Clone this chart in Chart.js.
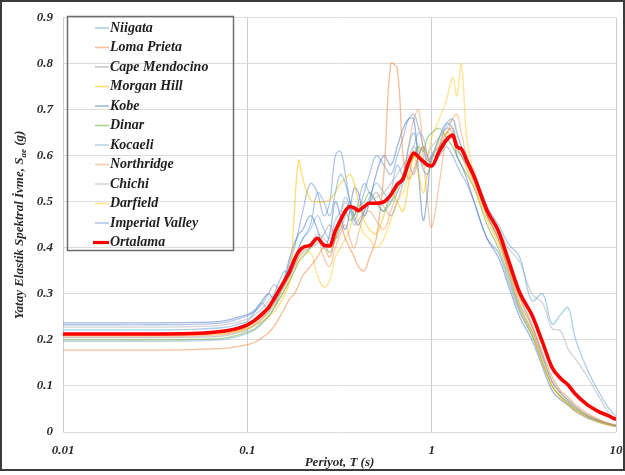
<!DOCTYPE html>
<html>
<head>
<meta charset="utf-8">
<script src="https://cdn.jsdelivr.net/npm/chart.js@4.4.0/dist/chart.umd.min.js"></script>
<style>
  html, body { margin: 0; padding: 0; background: #ffffff; }
  #wrap { position: relative; width: 625px; height: 475px; }
</style>
</head>
<body>
<div id="wrap"><canvas id="c" width="625" height="475"></canvas></div>
<script>
// Periods T (s)
const periods = [
  0.01, 0.02, 0.03, 0.05, 0.07, 0.08, 0.09, 0.10, 0.11, 0.12,
  0.13, 0.14, 0.15, 0.16, 0.17, 0.18, 0.19, 0.20, 0.22, 0.24,
  0.26, 0.28, 0.30, 0.32, 0.34, 0.36, 0.38, 0.40, 0.43, 0.46,
  0.50, 0.55, 0.60, 0.65, 0.70, 0.75, 0.80, 0.85, 0.90, 0.95,
  1.00, 1.10, 1.20, 1.30, 1.37, 1.45, 1.55, 1.70, 2.00, 2.30,
  2.60, 3.00, 3.50, 4.00, 4.50, 5.00, 5.50, 6.00, 7.00, 8.00,
  9.00, 10.0
];

// Horizontal elastic spectral acceleration Sae (g) per record
const niigata = [
  .222,.222,.222,.223,.226,.229,.235,.240,.262,.280,
  .265,.300,.330,.350,.340,.370,.400,.420,.450,.520,
  .500,.470,.520,.560,.540,.500,.470,.500,.540,.520,
  .500,.480,.520,.580,.560,.620,.650,.610,.570,.560,
  .590,.640,.670,.660,.620,.600,.580,.560,.490,.450,
  .410,.380,.285,.300,.235,.255,.270,.205,.135,.090,
  .055,.033
];
const lomaPrieta = [
  .178,.178,.178,.179,.181,.183,.186,.190,.195,.205,
  .215,.230,.250,.270,.290,.300,.320,.340,.360,.380,
  .400,.380,.420,.450,.420,.400,.380,.360,.350,.380,
  .420,.560,.800,.790,.600,.550,.570,.600,.620,.600,
  .580,.620,.650,.660,.630,.610,.580,.540,.470,.420,
  .360,.290,.230,.170,.120,.090,.075,.060,.040,.028,
  .020,.015
];
const capeMendocino = [
  .205,.205,.205,.206,.208,.211,.216,.222,.232,.245,
  .260,.280,.300,.320,.340,.360,.380,.390,.400,.410,
  .430,.450,.420,.440,.470,.500,.470,.450,.480,.500,
  .520,.490,.470,.500,.540,.580,.560,.600,.620,.590,
  .600,.640,.660,.650,.620,.600,.580,.550,.470,.420,
  .350,.270,.220,.160,.110,.085,.070,.055,.035,.025,
  .018,.014
];
const morganHill = [
  .210,.210,.210,.211,.213,.216,.220,.225,.232,.240,
  .250,.262,.278,.300,.330,.480,.590,.550,.505,.500,
  .500,.505,.520,.540,.550,.560,.540,.500,.460,.440,
  .430,.470,.520,.500,.480,.540,.600,.560,.520,.560,
  .590,.630,.650,.640,.610,.600,.570,.530,.460,.410,
  .350,.275,.215,.150,.100,.075,.060,.048,.032,.022,
  .016,.012
];
const kobe = [
  .237,.237,.237,.238,.240,.244,.250,.255,.265,.285,
  .300,.290,.310,.340,.380,.410,.430,.440,.470,.440,
  .400,.430,.500,.470,.440,.480,.530,.520,.470,.500,
  .560,.600,.580,.620,.660,.680,.680,.560,.460,.520,
  .600,.620,.640,.640,.600,.580,.550,.500,.420,.380,
  .320,.250,.200,.140,.090,.070,.058,.045,.030,.022,
  .016,.012
];
const dinar = [
  .200,.200,.200,.201,.203,.206,.211,.217,.225,.238,
  .252,.270,.290,.310,.330,.350,.370,.380,.400,.420,
  .410,.390,.420,.450,.480,.460,.470,.490,.500,.520,
  .500,.480,.500,.530,.560,.580,.600,.620,.610,.640,
  .650,.660,.640,.620,.600,.580,.560,.530,.450,.400,
  .340,.265,.210,.150,.100,.078,.062,.050,.034,.024,
  .018,.013
];
const kocaeli = [
  .197,.197,.197,.198,.200,.203,.208,.214,.222,.235,
  .250,.270,.300,.330,.360,.380,.400,.420,.440,.470,
  .440,.420,.460,.480,.510,.490,.460,.450,.480,.510,
  .540,.520,.500,.520,.550,.580,.620,.650,.640,.600,
  .580,.620,.670,.680,.650,.620,.590,.550,.470,.420,
  .360,.280,.230,.165,.110,.085,.068,.055,.036,.026,
  .019,.014
];
const northridge = [
  .208,.208,.208,.209,.211,.214,.219,.225,.235,.248,
  .262,.280,.300,.320,.340,.360,.380,.395,.400,.420,
  .380,.360,.400,.430,.450,.420,.400,.430,.470,.480,
  .460,.440,.480,.520,.560,.620,.680,.700,.600,.500,
  .445,.540,.640,.680,.690,.650,.600,.560,.480,.430,
  .370,.295,.235,.165,.110,.085,.068,.054,.036,.026,
  .019,.014
];
const chichi = [
  .228,.228,.228,.229,.231,.235,.240,.246,.255,.268,
  .285,.300,.315,.330,.350,.370,.390,.400,.410,.430,
  .420,.410,.440,.470,.500,.480,.450,.460,.480,.500,
  .510,.520,.540,.560,.580,.600,.620,.600,.580,.600,
  .620,.640,.660,.680,.650,.620,.590,.570,.470,.440,
  .400,.370,.300,.280,.225,.220,.180,.160,.120,.080,
  .045,.025
];
const darfield = [
  .214,.214,.214,.215,.217,.220,.224,.230,.238,.250,
  .262,.275,.290,.310,.330,.350,.370,.385,.390,.340,
  .315,.330,.380,.400,.420,.440,.480,.460,.430,.420,
  .400,.420,.460,.500,.520,.560,.600,.620,.580,.600,
  .640,.680,.720,.770,.730,.800,.640,.560,.470,.420,
  .355,.275,.220,.150,.100,.075,.060,.048,.032,.022,
  .016,.012
];
const imperialValley = [
  .233,.233,.233,.234,.236,.240,.246,.252,.262,.278,
  .300,.320,.310,.330,.370,.400,.440,.480,.540,.520,
  .470,.500,.600,.610,.560,.500,.460,.480,.520,.560,
  .600,.580,.560,.600,.640,.680,.690,.660,.620,.580,
  .600,.600,.620,.600,.580,.560,.540,.500,.420,.390,
  .330,.260,.210,.150,.100,.078,.064,.050,.034,.024,
  .017,.013
];
const ortalama = [
  .213,.213,.213,.214,.218,.221,.226,.233,.243,.256,
  .270,.290,.311,.330,.350,.374,.392,.401,.406,.421,
  .406,.404,.437,.460,.480,.490,.487,.481,.490,.497,
  .497,.500,.515,.538,.550,.585,.606,.597,.588,.580,
  .578,.610,.634,.645,.620,.615,.590,.555,.481,.437,
  .375,.303,.254,.194,.140,.117,.102,.083,.059,.045,
  .036,.027
];

const recordNames = ['Niigata', 'Loma Prieta', 'Cape Mendocino', 'Morgan Hill', 'Kobe', 'Dinar',
  'Kocaeli', 'Northridge', 'Chichi', 'Darfield', 'Imperial Valley'];
const recordValues = [niigata, lomaPrieta, capeMendocino, morganHill, kobe, dinar,
  kocaeli, northridge, chichi, darfield, imperialValley];
const recordColors = [
  'rgba(91,155,213,0.5)', 'rgba(237,125,49,0.5)', 'rgba(165,165,165,0.6)', 'rgba(255,192,0,0.55)',
  'rgba(68,114,196,0.5)', 'rgba(112,173,71,0.55)', 'rgba(124,175,221,0.55)', 'rgba(241,151,90,0.5)',
  'rgba(183,183,183,0.6)', 'rgba(255,205,51,0.55)', 'rgba(105,142,208,0.5)'
];
const meanName = 'Ortalama';
const meanColor = '#ff0000';

const xTickValues = [0.01, 0.1, 1, 10];
const xTickLabels = ['0.01', '0.1', '1', '10'];
const yTickValues = [0, 0.1, 0.2, 0.3, 0.4, 0.5, 0.6, 0.7, 0.8, 0.9];
const yTickLabels = ['0', '0.1', '0.2', '0.3', '0.4', '0.5', '0.6', '0.7', '0.8', '0.9'];

const xTitle = 'Periyot, T (s)';
const yTitleMain = 'Yatay Elastik Spektral İvme, S';
const yTitleSub = 'ae';
const yTitleEnd = ' (g)';

const SERIF = '"Liberation Serif", "Times New Roman", serif';
const textColor = '#2b2b2b';

const toPoints = vals => periods.map((t, i) => ({ x: t, y: vals[i] }));

const datasets = recordNames.map((name, i) => ({
  label: name,
  data: toPoints(recordValues[i]),
  borderColor: recordColors[i],
  borderWidth: 1.3,
  pointRadius: 0,
  tension: 0.4,
  fill: false,
  order: 1
}));
datasets.push({
  label: meanName,
  data: toPoints(ortalama),
  borderColor: meanColor,
  borderWidth: 3.6,
  pointRadius: 0,
  cubicInterpolationMode: 'monotone',
  fill: false,
  order: 0
});

// Axis titles, the legend box and the outer frame
const decorations = {
  id: 'decorations',
  afterDraw(chart) {
    const ctx = chart.ctx;
    const area = chart.chartArea;
    ctx.save();

    // x-axis title
    ctx.fillStyle = textColor;
    ctx.font = 'italic bold 13px ' + SERIF;
    ctx.textAlign = 'center';
    ctx.textBaseline = 'middle';
    ctx.fillText(xTitle, (area.left + area.right) / 2, 463);

    // y-axis title with subscript
    ctx.save();
    ctx.translate(19, (area.top + area.bottom) / 2);
    ctx.rotate(-Math.PI / 2);
    const mainFont = 'italic bold 13px ' + SERIF;
    const subFont = 'italic bold 9px ' + SERIF;
    ctx.font = mainFont;
    const w1 = ctx.measureText(yTitleMain).width;
    const w3 = ctx.measureText(yTitleEnd).width;
    ctx.font = subFont;
    const w2 = ctx.measureText(yTitleSub).width;
    let x0 = -(w1 + w2 + w3) / 2;
    ctx.textAlign = 'left';
    ctx.textBaseline = 'alphabetic';
    ctx.font = mainFont;
    ctx.fillText(yTitleMain, x0, 4);
    ctx.font = subFont;
    ctx.fillText(yTitleSub, x0 + w1, 7);
    ctx.font = mainFont;
    ctx.fillText(yTitleEnd, x0 + w1 + w2, 4);
    ctx.restore();

    // legend
    ctx.strokeStyle = '#6e6e6e';
    ctx.lineWidth = 1.5;
    ctx.strokeRect(67.5, 16.5, 166, 234);
    ctx.font = 'italic bold 14px ' + SERIF;
    ctx.textAlign = 'left';
    ctx.textBaseline = 'middle';
    chart.data.datasets.forEach((ds, i) => {
      const y = 28 + i * 19.5;
      ctx.strokeStyle = ds.borderColor;
      ctx.lineWidth = ds.borderWidth > 2 ? 3.2 : 1.6;
      ctx.beginPath();
      ctx.moveTo(ds.borderWidth > 2 ? 93 : 95, y);
      ctx.lineTo(109, y);
      ctx.stroke();
      ctx.fillStyle = '#1e1e1e';
      ctx.fillText(ds.label, 110, y);
    });

    // outer frame
    ctx.strokeStyle = '#3c3c3c';
    ctx.lineWidth = 2;
    ctx.strokeRect(1, 1, 623, 469);
    ctx.restore();
  }
};

new Chart(document.getElementById('c'), {
  type: 'line',
  data: { datasets },
  options: {
    responsive: false,
    animation: false,
    devicePixelRatio: 1,
    layout: { padding: { top: 17, right: 9, left: 0, bottom: 0 } },
    plugins: { legend: { display: false }, tooltip: { enabled: false } },
    scales: {
      x: {
        type: 'logarithmic',
        min: 0.01,
        max: 10,
        afterBuildTicks: s => { s.ticks = xTickValues.map(v => ({ value: v })); },
        afterFit: s => { s.height = 43; s.paddingLeft = 0; s.paddingRight = 0; },
        border: { display: false },
        grid: { color: '#cdcdcd', lineWidth: 1, drawTicks: false },
        ticks: {
          autoSkip: false,
          maxRotation: 0,
          padding: 11,
          color: textColor,
          font: { family: SERIF, size: 13, weight: 'bold', style: 'italic' },
          callback: (v, i) => xTickLabels[i]
        }
      },
      y: {
        type: 'linear',
        min: 0,
        max: 0.9,
        afterBuildTicks: s => { s.ticks = yTickValues.map(v => ({ value: v })); },
        afterFit: s => { s.width = 63; },
        border: { display: false },
        grid: { color: '#dcdcdc', lineWidth: 1, drawTicks: false },
        ticks: {
          padding: 10,
          color: textColor,
          font: { family: SERIF, size: 13, weight: 'bold', style: 'italic' },
          callback: (v, i) => yTickLabels[i]
        }
      }
    }
  },
  plugins: [decorations]
});
</script>
</body>
</html>
